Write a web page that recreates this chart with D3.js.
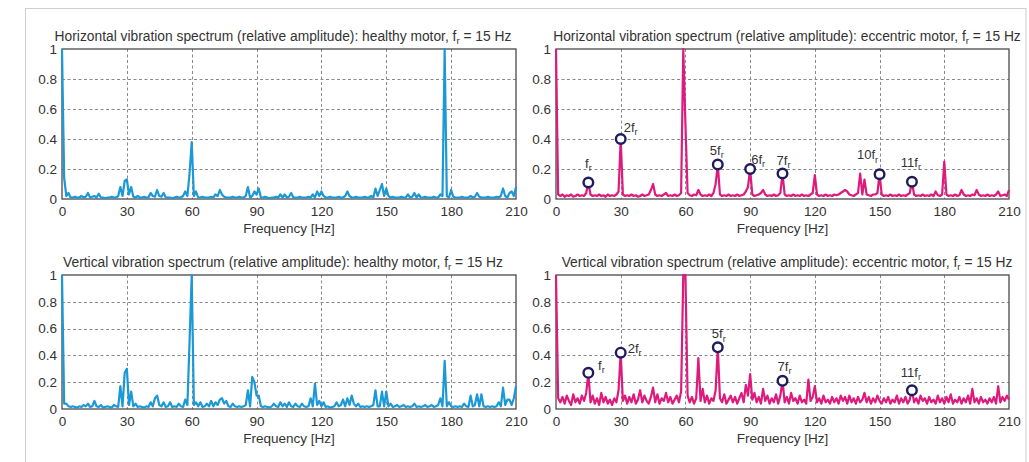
<!DOCTYPE html>
<html><head><meta charset="utf-8">
<script src="https://cdn.jsdelivr.net/npm/d3@7/dist/d3.min.js"></script>
<style>
body{margin:0;background:#fff}
svg{display:block}
text{font-family:"Liberation Sans",Arial,sans-serif;fill:#333}
</style>
</head><body>
<svg id="c" width="1029" height="462"></svg>
<script>
// ---------- data ----------
const xTicks = [0, 30, 60, 90, 120, 150, 180, 210];
const yTicks = [0, 0.2, 0.4, 0.6, 0.8, 1];
const yTickLabels = ["0", "0.2", "0.4", "0.6", "0.8", "1"];
const xLabel = "Frequency [Hz]";
const rotorFreq = 15; // f_r in Hz; spectra sampled every 1 Hz from 0 to 210 Hz

const horizHealthy = [
1.0,0.14,0.02,0.04,0.01,0.01,0.015,0.01,0.01,0.02,
0.01,0.015,0.04,0.01,0.015,0.02,0.01,0.035,0.01,0.01,
0.005,0.01,0.01,0.015,0.01,0.01,0.02,0.08,0.02,0.12,
0.13,0.03,0.08,0.015,0.01,0.02,0.01,0.01,0.015,0.01,
0.01,0.04,0.02,0.015,0.06,0.02,0.015,0.04,0.01,0.01,
0.01,0.005,0.01,0.015,0.01,0.01,0.02,0.05,0.02,0.17,
0.38,0.02,0.05,0.01,0.01,0.015,0.01,0.01,0.01,0.015,
0.01,0.03,0.02,0.06,0.03,0.015,0.01,0.01,0.01,0.015,
0.01,0.01,0.015,0.01,0.01,0.02,0.08,0.01,0.02,0.05,
0.03,0.07,0.01,0.01,0.015,0.01,0.005,0.01,0.01,0.015,
0.01,0.03,0.01,0.03,0.01,0.015,0.04,0.01,0.01,0.01,
0.015,0.01,0.01,0.01,0.015,0.01,0.03,0.01,0.05,0.02,
0.05,0.02,0.01,0.01,0.015,0.01,0.01,0.01,0.015,0.01,
0.01,0.02,0.05,0.02,0.01,0.01,0.015,0.01,0.01,0.01,
0.015,0.01,0.01,0.02,0.01,0.07,0.02,0.06,0.10,0.02,
0.07,0.02,0.01,0.015,0.01,0.01,0.01,0.015,0.01,0.01,
0.03,0.01,0.015,0.04,0.01,0.03,0.01,0.01,0.015,0.01,
0.01,0.01,0.015,0.01,0.01,0.03,0.02,1.0,0.02,0.01,
0.06,0.015,0.01,0.01,0.01,0.015,0.01,0.01,0.01,0.02,
0.01,0.015,0.04,0.015,0.01,0.01,0.01,0.015,0.01,0.01,
0.01,0.015,0.01,0.02,0.07,0.02,0.01,0.04,0.05,0.02,
0.08];

const horizEccentric = [
1.0,0.03,0.02,0.03,0.015,0.025,0.02,0.03,0.015,0.02,
0.03,0.02,0.025,0.02,0.04,0.11,0.03,0.02,0.025,0.02,
0.03,0.02,0.025,0.015,0.03,0.02,0.025,0.02,0.03,0.05,
0.40,0.03,0.02,0.025,0.02,0.03,0.02,0.025,0.015,0.02,
0.03,0.02,0.025,0.03,0.06,0.10,0.03,0.02,0.025,0.02,
0.03,0.04,0.02,0.025,0.02,0.03,0.02,0.025,0.04,1.0,
0.5,0.04,0.025,0.02,0.03,0.025,0.06,0.03,0.02,0.025,
0.02,0.03,0.02,0.04,0.10,0.23,0.03,0.02,0.025,0.02,
0.03,0.02,0.025,0.02,0.03,0.02,0.025,0.03,0.05,0.08,
0.20,0.03,0.02,0.025,0.03,0.04,0.06,0.03,0.02,0.025,
0.02,0.03,0.02,0.025,0.04,0.17,0.03,0.02,0.025,0.02,
0.03,0.02,0.025,0.02,0.03,0.02,0.025,0.02,0.03,0.04,
0.16,0.03,0.02,0.025,0.02,0.03,0.02,0.025,0.02,0.03,
0.025,0.03,0.04,0.05,0.06,0.05,0.03,0.025,0.02,0.03,
0.04,0.17,0.03,0.13,0.03,0.025,0.02,0.03,0.03,0.04,
0.165,0.03,0.02,0.025,0.02,0.03,0.02,0.025,0.02,0.03,
0.02,0.025,0.02,0.03,0.04,0.115,0.03,0.02,0.025,0.02,
0.03,0.02,0.025,0.02,0.03,0.02,0.05,0.025,0.02,0.03,
0.25,0.03,0.02,0.025,0.02,0.03,0.02,0.025,0.06,0.03,
0.02,0.025,0.02,0.03,0.025,0.06,0.03,0.02,0.025,0.02,
0.03,0.02,0.025,0.02,0.03,0.05,0.02,0.025,0.03,0.02,
0.06];

const vertHealthy = [
1.0,0.04,0.04,0.02,0.015,0.02,0.015,0.01,0.02,0.015,
0.03,0.02,0.04,0.015,0.02,0.06,0.02,0.015,0.03,0.01,
0.015,0.02,0.015,0.01,0.03,0.02,0.015,0.17,0.02,0.27,
0.30,0.03,0.13,0.02,0.04,0.015,0.02,0.015,0.01,0.02,
0.015,0.05,0.02,0.08,0.10,0.03,0.02,0.05,0.015,0.02,
0.05,0.015,0.02,0.015,0.04,0.02,0.015,0.07,0.03,0.50,
1.0,0.03,0.05,0.02,0.05,0.015,0.02,0.04,0.02,0.06,
0.02,0.05,0.03,0.07,0.08,0.04,0.06,0.02,0.015,0.04,
0.02,0.015,0.02,0.015,0.02,0.03,0.14,0.02,0.24,0.20,
0.10,0.10,0.02,0.015,0.02,0.015,0.01,0.02,0.04,0.02,
0.015,0.05,0.02,0.04,0.015,0.05,0.02,0.015,0.04,0.02,
0.015,0.04,0.02,0.015,0.02,0.08,0.02,0.19,0.03,0.06,
0.02,0.05,0.015,0.02,0.01,0.015,0.02,0.05,0.02,0.03,
0.07,0.02,0.08,0.03,0.10,0.04,0.02,0.04,0.015,0.02,
0.015,0.02,0.015,0.02,0.03,0.14,0.02,0.02,0.13,0.02,
0.13,0.02,0.04,0.015,0.02,0.03,0.015,0.02,0.03,0.015,
0.02,0.015,0.02,0.04,0.015,0.02,0.015,0.02,0.03,0.015,
0.02,0.03,0.015,0.02,0.03,0.08,0.02,0.36,0.02,0.05,
0.02,0.015,0.02,0.015,0.02,0.015,0.04,0.02,0.015,0.10,
0.02,0.03,0.11,0.02,0.11,0.02,0.015,0.02,0.015,0.02,
0.015,0.02,0.05,0.02,0.16,0.03,0.07,0.07,0.03,0.08,
0.17];

const vertEccentric = [
1.0,0.08,0.05,0.09,0.04,0.10,0.06,0.03,0.11,0.05,
0.08,0.04,0.10,0.06,0.12,0.27,0.05,0.10,0.04,0.08,
0.03,0.12,0.05,0.09,0.04,0.07,0.03,0.08,0.05,0.14,
0.42,0.06,0.10,0.04,0.09,0.05,0.11,0.04,0.07,0.14,
0.05,0.10,0.06,0.04,0.09,0.16,0.05,0.11,0.04,0.08,
0.06,0.12,0.05,0.09,0.04,0.07,0.10,0.05,0.13,1.0,
1.0,0.10,0.05,0.09,0.04,0.08,0.38,0.06,0.15,0.05,
0.10,0.04,0.08,0.06,0.14,0.46,0.08,0.05,0.11,0.04,
0.07,0.10,0.05,0.09,0.04,0.08,0.12,0.05,0.18,0.10,
0.26,0.07,0.12,0.05,0.09,0.04,0.15,0.06,0.10,0.04,
0.08,0.05,0.11,0.04,0.10,0.21,0.05,0.09,0.04,0.12,
0.06,0.08,0.04,0.10,0.05,0.07,0.04,0.22,0.06,0.09,
0.17,0.05,0.08,0.04,0.10,0.05,0.07,0.04,0.09,0.05,
0.08,0.04,0.10,0.06,0.09,0.04,0.10,0.05,0.08,0.04,
0.09,0.05,0.07,0.12,0.05,0.09,0.04,0.08,0.05,0.10,
0.06,0.04,0.08,0.05,0.09,0.04,0.07,0.05,0.10,0.04,
0.08,0.05,0.09,0.04,0.07,0.14,0.05,0.08,0.04,0.10,
0.06,0.08,0.04,0.09,0.05,0.07,0.04,0.10,0.05,0.08,
0.04,0.09,0.05,0.11,0.04,0.07,0.05,0.09,0.04,0.08,
0.05,0.10,0.04,0.15,0.05,0.08,0.04,0.09,0.05,0.07,
0.04,0.08,0.05,0.09,0.04,0.17,0.05,0.09,0.06,0.10,
0.07];

// harmonic orders marked with circles (k * f_r)
const harmonicsHorizEcc = [1, 2, 5, 6, 7, 10, 11];
const harmonicsVertEcc  = [1, 2, 5, 7, 11];

const titleAxis = ["Horizontal", "Horizontal", "Vertical", "Vertical"];
const titleMotor = ["healthy", "eccentric", "healthy", "eccentric"];

// ---------- layout / style ----------
const BLUE = "#1b98d6", MAGENTA = "#de1a7d", NAVY = "#1e1b5e";
const colsX = [[62, 516], [556, 1009]];
const rowsY = [[49, 199], [275, 409]];
const titleCenters = [283, 787];
// label offsets (dx, dy) of harmonic labels relative to circle centre
const labelOffHE = {1:[0,-15],2:[10,-7],5:[-1,-10],6:[8,-5],7:[1,-9],10:[-12,-15],11:[-1,-15]};
const labelOffVE = {1:[13,-3],2:[14,0],5:[1,-9],7:[2,-10],11:[-1,-13]};

const panels = [
  {series: horizHealthy, color: BLUE, col: 0, row: 0, harm: [], off: {}},
  {series: horizEccentric, color: MAGENTA, col: 1, row: 0, harm: harmonicsHorizEcc, off: labelOffHE},
  {series: vertHealthy, color: BLUE, col: 0, row: 1, harm: [], off: {}},
  {series: vertEccentric, color: MAGENTA, col: 1, row: 1, harm: harmonicsVertEcc, off: labelOffVE},
];

const svg = d3.select("#c");
svg.append("rect").attr("x", 25.5).attr("y", 8.5).attr("width", 1000.5).attr("height", 470)
  .attr("fill", "none").attr("stroke", "#cfcfcf").attr("stroke-width", 1);

function subText(sel, main, sub, after, fs) {
  sel.append("tspan").text(main);
  sel.append("tspan").attr("font-size", fs * 0.7).attr("dy", fs * 0.25).text(sub);
  if (after !== undefined) sel.append("tspan").attr("dy", -fs * 0.25).text(after);
}

panels.forEach((p, pi) => {
  const [x0, x1] = colsX[p.col];
  const [y0, y1] = rowsY[p.row];
  const x = d3.scaleLinear().domain([0, 210]).range([x0, x1]);
  const y = d3.scaleLinear().domain([0, 1]).range([y1, y0]);
  const g = svg.append("g");

  // grid
  const gridX = xTicks.filter(t => t > 0 && t < 210);
  const gridY = yTicks.filter(t => t > 0 && t < 1);
  g.selectAll(".gx").data(gridX).join("line")
    .attr("x1", d => Math.round(x(d)) + 0.5).attr("x2", d => Math.round(x(d)) + 0.5)
    .attr("y1", y0).attr("y2", y1)
    .attr("stroke", "#8a8a8a").attr("stroke-width", 1).attr("stroke-dasharray", "3,2.5");
  g.selectAll(".gy").data(gridY).join("line")
    .attr("y1", d => Math.round(y(d)) + 0.5).attr("y2", d => Math.round(y(d)) + 0.5)
    .attr("x1", x0).attr("x2", x1)
    .attr("stroke", "#8a8a8a").attr("stroke-width", 1).attr("stroke-dasharray", "3,2.5");

  // clip
  const cid = "clip" + pi;
  svg.append("clipPath").attr("id", cid).append("rect")
    .attr("x", x0 - 1.2).attr("y", y0 - 1).attr("width", x1 - x0 + 2.4).attr("height", y1 - y0 + 1);

  // frame
  g.append("rect").attr("x", x0).attr("y", y0).attr("width", x1 - x0).attr("height", y1 - y0)
    .attr("fill", "none").attr("stroke", "#4a4a4a").attr("stroke-width", 1.3);

  // spectrum line
  const line = d3.line().x((d, i) => x(i)).y(d => y(d));
  g.append("path").datum(p.series).attr("d", line).attr("clip-path", `url(#${cid})`)
    .attr("fill", "none").attr("stroke", p.color).attr("stroke-width", 2.2)
    .attr("stroke-linejoin", "round");

  // axes labels via d3 axis
  const ax = d3.axisBottom(x).tickValues(xTicks).tickSize(0).tickPadding(5).tickFormat(d3.format("d"));
  const ag = g.append("g").attr("transform", `translate(0,${y1})`).call(ax);
  ag.select(".domain").remove();
  ag.selectAll("text").attr("font-size", 13.5).attr("fill", "#333")
    .attr("font-family", '"Liberation Sans",Arial,sans-serif').attr("dy", "0.9em");

  const ay = d3.axisLeft(y).tickValues(yTicks).tickSize(0).tickPadding(5)
    .tickFormat((d, i) => yTickLabels[i]);
  const ayg = g.append("g").attr("transform", `translate(${x0},0)`).call(ay);
  ayg.select(".domain").remove();
  ayg.selectAll("text").attr("font-size", 13.5).attr("fill", "#333")
    .attr("font-family", '"Liberation Sans",Arial,sans-serif');

  g.append("text").attr("x", (x0 + x1) / 2).attr("y", y1 + 34).attr("text-anchor", "middle")
    .attr("font-size", 13.5).text(xLabel);

  // title
  const tt = g.append("text").attr("x", titleCenters[p.col]).attr("y", y0 - 8)
    .attr("text-anchor", "middle").attr("font-size", 13.8);
  subText(tt, `${titleAxis[pi]} vibration spectrum (relative amplitude): ${titleMotor[pi]} motor, f`, "r", ` = ${rotorFreq} Hz`, 13.8);

  // harmonic markers
  p.harm.forEach(k => {
    const f = k * rotorFreq;
    const v = p.series[f];
    const cx = x(f), cy = y(v);
    g.append("circle").attr("cx", cx).attr("cy", cy).attr("r", 4.8)
      .attr("fill", "#fff").attr("stroke", NAVY).attr("stroke-width", 2.4);
    const [dx, dy] = p.off[k];
    const lt = g.append("text").attr("x", cx + dx).attr("y", cy + dy).attr("text-anchor", "middle")
      .attr("font-size", 13);
    subText(lt, (k === 1 ? "" : k) + "f", "r", undefined, 13);
  });
});
</script>
</body></html>
